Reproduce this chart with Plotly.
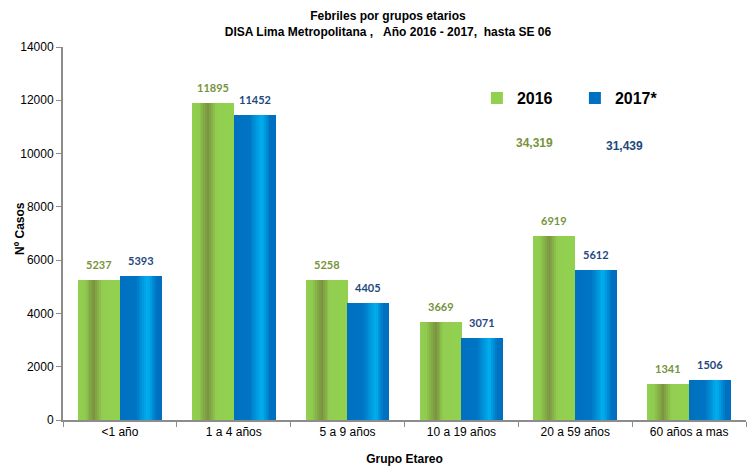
import numpy as np
import plotly.graph_objects as go

# --- data -------------------------------------------------------------
categories = ["<1 año", "1 a 4 años", "5 a 9 años", "10 a 19 años", "20 a 59 años", "60 años a mas"]
casos_2016 = [5237, 11895, 5258, 3669, 6919, 1341]
casos_2017 = [5393, 11452, 4405, 3071, 5612, 1506]
y_ticks = [0, 2000, 4000, 6000, 8000, 10000, 12000, 14000]

idx = np.arange(len(categories))

# --- style ------------------------------------------------------------
FONT = "Liberation Sans"
LABEL_FONT = "Lato"
BAR_W = 0.365
series = [
    dict(name="2016", values=casos_2016, offset=-BAR_W, base="#92D050", label="#77933C",
         stops=[(0.0, "#92D050"), (0.16, "#8FCB4E"), (0.38, "#7B9340"), (0.58, "#92CF50"), (1.0, "#92D050")]),
    dict(name="2017*", values=casos_2017, offset=0.0, base="#0070C0", label="#1F497D",
         stops=[(0.0, "#0070C0"), (0.38, "#0074C4"), (0.68, "#00B0F0"), (0.88, "#0071C1"), (1.0, "#006FBF")]),
]
N_STRIPS = 22


def hex_to_rgb(h):
    h = h.lstrip("#")
    return np.array([int(h[i:i + 2], 16) for i in (0, 2, 4)], dtype=float)


def gradient_color(stops, t):
    pos = [s[0] for s in stops]
    cols = np.array([hex_to_rgb(s[1]) for s in stops])
    rgb = [np.interp(t, pos, cols[:, c]) for c in range(3)]
    return "rgb(%d,%d,%d)" % tuple(int(round(v)) for v in rgb)


fig = go.Figure()

for s in series:
    # solid bar carrying the legend entry
    fig.add_trace(go.Bar(
        x=idx + s["offset"] + BAR_W / 2, y=s["values"], width=BAR_W,
        name=s["name"], marker=dict(color=s["base"], line=dict(width=0)),
        hoverinfo="y",
    ))
    # vertical shading strips laid over the bar
    sw = BAR_W / N_STRIPS
    for k in range(N_STRIPS):
        t = (k + 0.5) / N_STRIPS
        fig.add_trace(go.Bar(
            x=idx + s["offset"] + (k + 0.5) * sw, y=s["values"], width=sw * 1.25,
            marker=dict(color=gradient_color(s["stops"], t), line=dict(width=0)),
            showlegend=False, hoverinfo="skip",
        ))

annotations = []
for s in series:
    for i, v in zip(idx, s["values"]):
        annotations.append(dict(
            x=i + s["offset"] + BAR_W / 2, y=v, xref="x", yref="y",
            text=str(v), showarrow=False, yanchor="bottom", yshift=7,
            font=dict(family=LABEL_FONT, size=11, color=s["label"], weight="bold"),
        ))

# totals per year
total_pos = [(0.691, 0.743), (0.822, 0.735)]
for s, (px, py) in zip(series, total_pos):
    annotations.append(dict(
        x=px, y=py, xref="paper", yref="paper", text=f"{sum(s['values']):,}",
        showarrow=False, xanchor="center", yanchor="middle",
        font=dict(family=FONT, size=12, color=s["label"], weight="bold"),
    ))

# y-axis title
annotations.append(dict(
    x=-0.063, y=0.515, xref="paper", yref="paper", text="Nº Casos",
    textangle=-90, showarrow=False, xanchor="center", yanchor="middle",
    font=dict(family=FONT, size=12, color="#000000", weight="bold"),
))

fig.update_layout(
    width=749, height=466,
    margin=dict(l=63, r=3, t=47, b=46),
    paper_bgcolor="white", plot_bgcolor="white",
    barmode="overlay", bargap=0,
    font=dict(family=FONT, size=12, color="#000000"),
    title=dict(
        text="Febriles por grupos etarios<br>DISA Lima Metropolitana ,\u00a0\u00a0\u00a0Año 2016 - 2017,\u00a0\u00a0hasta SE 06",
        x=0.518, xref="container", xanchor="center",
        y=0.957, yref="container", yanchor="top",
        font=dict(family=FONT, size=12, color="#000000", weight="bold"),
    ),
    xaxis=dict(
        range=[-0.5, len(categories) - 0.5], automargin=False,
        tickvals=idx, ticktext=categories, ticks="",
        showline=True, linecolor="#8C8C8C", linewidth=2,
        showgrid=False, zeroline=False,
        tickfont=dict(size=12, color="#000000"),
        minor=dict(tickvals=np.arange(len(categories) + 1) - 0.5, ticks="outside",
                   ticklen=5, tickwidth=1, tickcolor="#8C8C8C", showgrid=False),
        title=dict(text="Grupo Etareo", standoff=20,
                   font=dict(family=FONT, size=12, weight="bold")),
    ),
    yaxis=dict(
        range=[0, 14000], tickvals=y_ticks, tickformat="d", automargin=False,
        ticks="outside", ticklen=5, tickcolor="#8C8C8C", tickwidth=1,
        showline=True, linecolor="#8C8C8C", linewidth=2,
        showgrid=False, zeroline=False,
        tickfont=dict(size=12, color="#000000"),
    ),
    legend=dict(
        orientation="h", x=0.606, xanchor="left", y=0.863, yanchor="middle",
        font=dict(family=FONT, size=16, weight="bold"),
        bgcolor="rgba(0,0,0,0)", itemwidth=30,
        entrywidth=53, entrywidthmode="pixels",
    ),
    annotations=annotations,
)

fig.write_html("out.html")
